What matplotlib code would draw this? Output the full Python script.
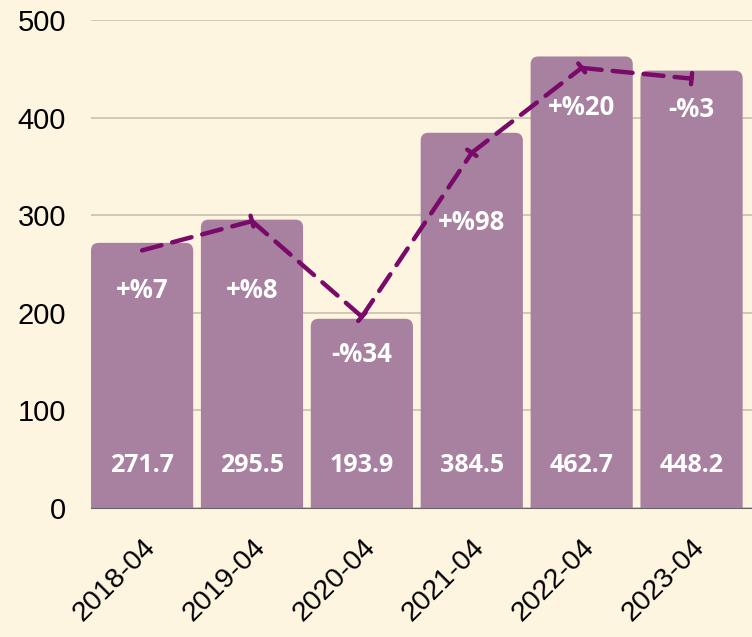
import numpy as np
import matplotlib
matplotlib.use('Agg')
import matplotlib.pyplot as plt
from matplotlib.patches import FancyBboxPatch

plt.rcParams['font.family'] = ['Liberation Sans', 'DejaVu Sans']

# data
periods = ['2018-04', '2019-04', '2020-04', '2021-04', '2022-04', '2023-04']
values = [271.7, 295.5, 193.9, 384.5, 462.7, 448.2]
trend = [264, 294, 196, 364, 451, 440]
changes = ['+%7', '+%8', '-%34', '+%98', '+%20', '-%3']
change_y = [223, 223, 157, 293, 410, 408]

bg = '#fef5e0'
bar_col = '#a7819f'
line_col = '#7a0a6a'

fig = plt.figure(figsize=(7.52, 6.37), dpi=100, facecolor=bg)
ax = fig.add_axes([0.121, 0.2025, 0.879, 0.766], facecolor=bg)

x = np.arange(len(values))
w = 0.93
ax.set_xlim(-0.465, 5.55)
ax.set_ylim(0, 500)

# rounded-top bars (bottom pushed below 0 so it gets clipped)
for xi, v in zip(x, values):
    p = FancyBboxPatch((xi - w / 2, -20), w, v + 20,
                       boxstyle='round,pad=0,rounding_size=0.07',
                       mutation_aspect=115, fc=bar_col, ec='none', zorder=2)
    ax.add_patch(p)
    ax.text(xi, 44, '%.1f' % v, color='white', fontsize=18, fontweight='bold',
            family='Open Sans', ha='center', va='center', zorder=4)

for xi, t, yy in zip(x, changes, change_y):
    ax.text(xi, yy, t, color='white', fontsize=18.5, fontweight='bold',
            family='Open Sans', ha='center', va='center', zorder=4)

# dashed trend line with a bar at each segment end
for i in range(len(trend) - 1):
    ax.annotate('', xy=(x[i + 1], trend[i + 1]), xytext=(x[i], trend[i]),
                arrowprops=dict(arrowstyle='-[, widthB=0.4, lengthB=0',
                                color=line_col, lw=3.2, linestyle=(0, (4.5, 2.5)),
                                shrinkA=0, shrinkB=0),
                zorder=3)

ax.set_yticks([0, 100, 200, 300, 400, 500])
ax.set_xticks(x)
ax.set_xticklabels(periods, rotation=45, ha='right', rotation_mode='anchor')
ax.tick_params(axis='y', length=0, pad=18, labelsize=21)
ax.tick_params(axis='x', length=0, pad=19, labelsize=20.5)
ax.grid(axis='y', color='#c9c0ae', lw=1.2, zorder=0)
ax.set_axisbelow(True)
for s in ['top', 'right', 'left']:
    ax.spines[s].set_visible(False)
ax.spines['bottom'].set_color('#666666')
ax.spines['bottom'].set_zorder(5)

plt.savefig('out.png', dpi=100, facecolor=bg)
